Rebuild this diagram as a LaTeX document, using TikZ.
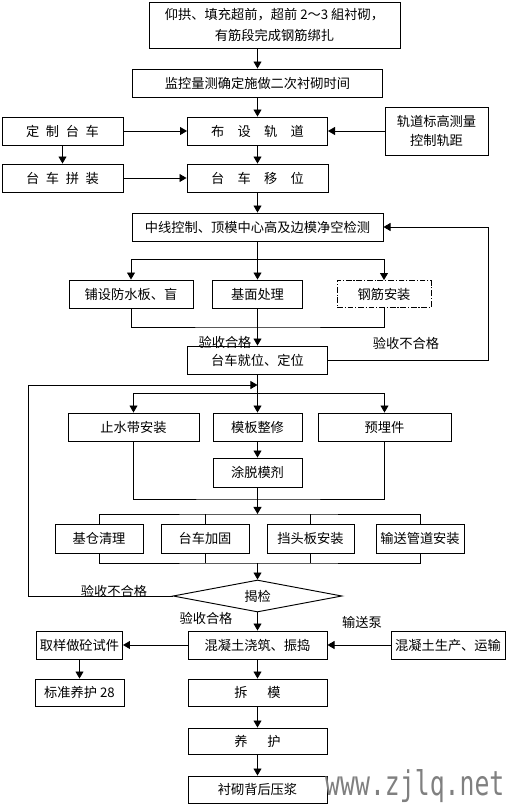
\documentclass[tikz,border=0pt]{standalone}
\usepackage{fontspec}
\setmainfont{Noto Sans CJK SC}
\newfontfamily\wmfont{DejaVu Sans Mono}
\usetikzlibrary{arrows.meta, shapes.geometric}

\begin{document}
\begin{tikzpicture}[x=0.03cm, y=-0.03cm,
  box/.style={draw, line width=0.8pt, inner sep=0pt, align=center, font=\fontsize{11.3pt}{14pt}\selectfont},
  sz/.style 2 args={minimum width=#1*0.03cm, minimum height=#2*0.03cm},
  arr/.style={-{Triangle[length=6pt, width=6.8pt]}, line width=0.8pt},
  ln/.style={line width=0.8pt},
  lbl/.style={inner sep=0pt, font=\fontsize{11.3pt}{14pt}\selectfont}]
 \fill[white] (0,0) rectangle (508,804);
 \useasboundingbox (0,0) rectangle (508,804);
 % boxes, top part
 \node[box, sz={251}{46}, font=\fontsize{11.3pt}{18pt}\selectfont] (top) at (274.5,25) {仰拱、填充超前，超前 2～3 組衬砌，\\有筋段完成钢筋绑扎};
 \node[box, sz={250}{28}] (jkcl) at (257.5,83) {监控量测确定施做二次衬砌时间};
 \node[box, sz={140}{28}] (bsgd) at (257.5,131) {布\quad 设\quad 轨\quad 道};
 \node[box, sz={121}{28}] (dztc) at (62.5,131) {定\enspace 制\enspace 台\enspace 车};
 \node[box, sz={103}{48}, font=\fontsize{11.3pt}{17pt}\selectfont] (gdbg) at (436.5,131) {轨道标高测量\\控制轨距};
 \node[box, sz={121}{28}] (tcpz) at (62.5,178) {台\enspace 车\enspace 拼\enspace 装};
 \node[box, sz={141}{28}] (tcyw) at (257.5,178) {台\quad 车\quad 移\quad 位};
 \node[box, sz={251}{28}] (zxkz) at (257.5,227) {中线控制、顶模中心高及边模净空检测};
 \node[box, sz={124}{28}] (fsb) at (131,294) {铺设防水板、盲};
 \node[box, sz={90}{28}] (jmcl) at (257.5,294) {基面处理};
 \node[box, sz={94}{27}, dash pattern={on 5pt off 1.5pt on 1pt off 1.5pt}] (gjaz) at (384,294) {钢筋安装};
 \node[box, sz={140}{28}] (tcjw) at (257.5,360) {台车就位、定位};
 % boxes, middle part
 \node[box, sz={131}{28}] (zsd) at (133.5,427) {止水带安装};
 \node[box, sz={89}{28}] (mbzx) at (257.5,427) {模板整修};
 \node[box, sz={133}{28}] (ymj) at (384.5,427) {预埋件};
 \node[box, sz={89}{29}] (tmj) at (257.5,472.5) {涂脱模剂};
 \node[box, sz={88}{29}] (jccl) at (99,538.5) {基仓清理};
 \node[box, sz={88}{29}] (tcjg) at (205,538.5) {台车加固};
 \node[box, sz={87}{29}] (dtb) at (310.5,538.5) {挡头板安装};
 \node[box, sz={88}{29}] (ssgd) at (420,538.5) {输送管道安装};
 \node[box, diamond, aspect=5.3, sz={169}{32}] (jj) at (257.5,596) {揭检};
 % boxes, bottom part
 \node[box, sz={139}{28}] (hnt) at (257.5,645) {混凝土浇筑、振捣};
 \node[box, sz={86}{28}] (qysj) at (79.5,645) {取样做砼试件};
 \node[box, sz={114}{28}] (hsc) at (448,645) {混凝土生产、运输};
 \node[box, sz={89}{27}] (bzyh) at (79.5,692.5) {标准养护 28};
 \node[box, sz={139}{27}] (cm) at (257.5,692.5) {拆\hspace{1.5em}模};
 \node[box, sz={139}{26}] (yh) at (257.5,741) {养\hspace{1.5em}护};
 \node[box, sz={139}{27}] (yjhy) at (257.5,789.5) {衬砌背后压浆};
 % branch points
 \coordinate (br1) at (257.5,259);
 \coordinate (mg1) at (257.5,327);
 \coordinate (fb1) at (488,360);
 \coordinate (lp1) at (257.5,385);
 \coordinate (fb2) at (28,385);
 \coordinate (br2) at (257.5,393);
 \coordinate (mg2) at (257.5,499);
 \coordinate (bus1) at (257.5,514);
 \coordinate (bus2) at (257.5,563);
 % connectors
 \draw[arr] (top.south -| jkcl.north) -- (jkcl.north);
 \draw[arr] (jkcl.south) -- (bsgd.north);
 \draw[arr] (dztc.east) -- (bsgd.west);
 \draw[arr] (gdbg.west) -- (bsgd.east);
 \draw[arr] (dztc.south) -- (tcpz.north);
 \draw[arr] (tcpz.east) -- (tcyw.west);
 \draw[arr] (bsgd.south) -- (tcyw.north);
 \draw[arr] (tcyw.south) -- (zxkz.north);
 \draw[arr] (zxkz.south) -- (jmcl.north);
 \draw[arr] (br1) -| (fsb.north);
 \draw[arr] (br1) -| (gjaz.north);
 \draw[ln] (fsb.south) |- (mg1) -| (gjaz.south);
 \draw[arr] (jmcl.south) -- (tcjw.north);
 \node[lbl] (ok1) at (225,342) {验收合格};
 \draw[arr] (tcjw.east) -- (fb1) |- (zxkz.east);
 \node[lbl] (ng1) at (406,343) {验收不合格};
 \draw[arr] (tcjw.south) -- (mbzx.north);
 \draw[arr] (br2) -| (zsd.north);
 \draw[arr] (br2) -| (ymj.north);
 \draw[arr] (mbzx.south) -- (tmj.north);
 \draw[ln] (zsd.south) |- (mg2) -| (ymj.south);
 \draw[arr] (tmj.south) -- (bus1);
 \draw[ln] (jccl.north) |- (bus1) -| (ssgd.north);
 \draw[ln] (tcjg.north) -- (tcjg.north |- bus1);
 \draw[ln] (dtb.north) -- (dtb.north |- bus1);
 \draw[ln] (jccl.south) |- (bus2) -| (ssgd.south);
 \draw[ln] (tcjg.south) -- (tcjg.south |- bus2);
 \draw[ln] (dtb.south) -- (dtb.south |- bus2);
 \draw[arr] (bus2) -- (jj.north);
 \draw[arr] (jj.west) -| (fb2) -- (lp1);
 \node[lbl] (ng2) at (114,591) {验收不合格};
 \draw[arr] (jj.south) -- (hnt.north);
 \node[lbl] (ok2) at (206,618) {验收合格};
 \draw[arr] (hnt.west) -- (qysj.east);
 \draw[arr] (hsc.west) -- (hnt.east);
 \node[lbl] (bsb) at (362,622) {输送泵};
 \draw[arr] (qysj.south) -- (bzyh.north);
 \draw[arr] (hnt.south) -- (cm.north);
 \draw[arr] (cm.south) -- (yh.north);
 \draw[arr] (yh.south) -- (yjhy.north);
 % watermark
 \node[inner sep=0pt, anchor=base west, text=black!50, font=\wmfont\fontsize{29pt}{30pt}\selectfont] (wm) at (325,795) {\scalebox{0.73}[1]{www.zjlq.net}};
\end{tikzpicture}
\end{document}
